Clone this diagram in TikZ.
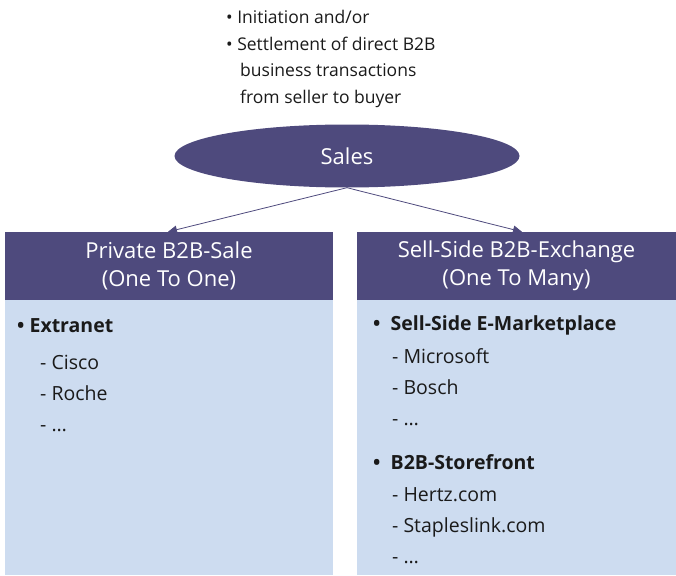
\documentclass[tikz,border=0pt]{standalone}
\usepackage{fontspec}
\setmainfont{Open Sans}
\usetikzlibrary{shapes.geometric,arrows.meta}
\definecolor{dpurple}{HTML}{4E4A7D}
\definecolor{lblue}{HTML}{CDDCF0}
\definecolor{txt}{HTML}{1A1A1A}
\tikzset{
  hdr/.style={rectangle,fill=dpurple,text=white,inner sep=0pt,align=center,font=\fontsize{22}{28.5}\selectfont},
  bodybox/.style={rectangle,fill=lblue,inner sep=0pt},
  conn/.style={draw=dpurple,line width=0.8pt,-{Triangle[length=9pt,width=8pt]}},
  toptxt/.style={anchor=base west,inner sep=0pt,text=txt,font=\fontsize{17.5}{20}\selectfont},
  itm/.style={anchor=base west,inner sep=0pt,text=txt,font=\fontsize{19.5}{20}\selectfont},
  bitm/.style={itm,font=\fontsize{19.5}{20}\selectfont\bfseries}
}
\begin{document}
\begin{tikzpicture}[x=1pt,y=-1pt]
\useasboundingbox (0,0) rectangle (676,575);
% top text
\node[toptxt] (t1) at (226,24) {\textbullet\ Initiation and/or};
\node[toptxt] (t2) at (226,51) {\textbullet\ Settlement of direct B2B};
\node[toptxt] (t3) at (240,77) {business transactions};
\node[toptxt] (t4) at (240,103) {from seller to buyer};
% ellipse
\node[ellipse,fill=dpurple,minimum width=345pt,minimum height=63pt,inner sep=0pt,text=white,font=\fontsize{22}{24}\selectfont] (sales) at (347,156) {Sales};
% headers
\node[hdr,minimum width=328pt,minimum height=68pt] (lh) at (169,266) {Private B2B-Sale\\(One To One)};
\node[hdr,minimum width=319pt,minimum height=68pt] (rh) at (516.5,266) {Sell-Side B2B-Exchange\\(One To Many)};
% bodies
\node[bodybox,minimum width=328pt,minimum height=275pt] (lb) at (169,437.5) {};
\node[bodybox,minimum width=319pt,minimum height=275pt] (rb) at (516.5,437.5) {};
% connectors
\coordinate (lt) at ([xshift=-1pt]lh.north);
\coordinate (rt) at ([xshift=5.5pt]rh.north);
\draw[conn] (sales.south) -- (lt);
\draw[conn] (sales.south) -- (rt);
% left items
\node[bitm] (l1) at (17,332) {\textbullet\ Extranet};
\node[itm] (l2) at (40,369) {- Cisco};
\node[itm] (l3) at (40,400) {- Roche};
\node[itm] (l4) at (40,431) {- \dots};
% right items
\node[bitm] (r1) at (373,330) {\textbullet\ \ Sell-Side E-Marketplace};
\node[itm] (r2) at (392,363) {- Microsoft};
\node[itm] (r3) at (392,394) {- Bosch};
\node[itm] (r4) at (392,425) {- \dots};
\node[bitm] (r5) at (373,469) {\textbullet\ \ B2B-Storefront};
\node[itm] (r6) at (392,501) {- Hertz.com};
\node[itm] (r7) at (392,532) {- Stapleslink.com};
\node[itm] (r8) at (392,563) {- \dots};
\end{tikzpicture}
\end{document}
